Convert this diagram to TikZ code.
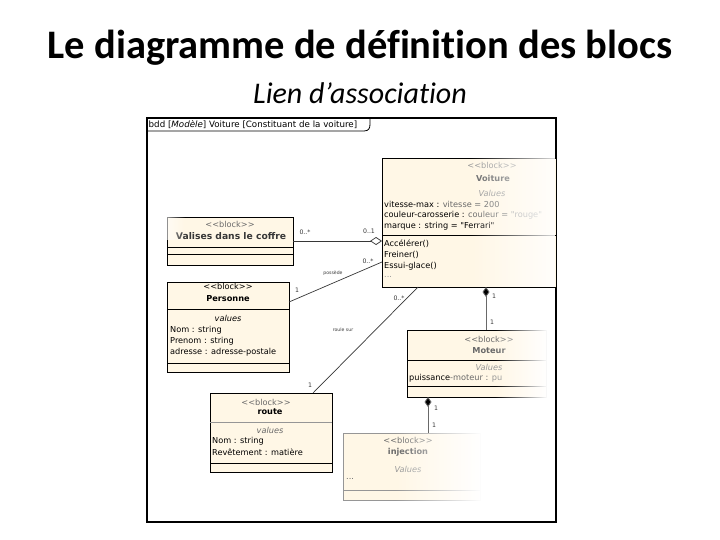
\documentclass[tikz,border=0pt]{standalone}
\usepackage{fontspec}
\setmainfont{Carlito}[Ligatures=NoCommon]
\newfontfamily\dv{DejaVu Sans}
\usetikzlibrary{arrows.meta,fadings}
\definecolor{beige}{RGB}{255,247,230}
\definecolor{lgray}{RGB}{150,150,150}
\definecolor{mgray}{RGB}{105,105,105}
\definecolor{dline}{RGB}{55,55,55}
\begin{document}
\begin{tikzpicture}[x=1pt,y=-1pt,
  blockbox/.style={draw=black,line width=0.8pt,fill=beige,inner sep=0pt,outer sep=0pt},
  txt/.style={font=\dv\fontsize{8.2}{9}\selectfont,inner sep=0pt},
  bname/.style={txt,font=\dv\bfseries\fontsize{8.2}{9}\selectfont},
  ital/.style={txt,font=\dv\itshape\fontsize{8.2}{9}\selectfont},
  attr/.style={txt,anchor=west},
  lbl/.style={font=\dv\fontsize{6.2}{7}\selectfont,inner sep=0pt,text=dline},
  tiny/.style={font=\dv\fontsize{4.6}{5}\selectfont,inner sep=0pt,text=dline},
  compo/.style={draw=mgray,line width=0.8pt,{Diamond[length=10pt,width=7pt,fill=black]}-},
  assoc/.style={draw=dline,line width=0.7pt},
  sep/.style={draw=black,line width=0.6pt}
]
\useasboundingbox (0,0) rectangle (720,540);
\fill[white] (0,0) rectangle (720,540);
% titles
\node[font=\bfseries\fontsize{40.5}{44}\selectfont,inner sep=0pt] (title) at (360,48) {Le diagramme de définition des blocs};
\node[font=\itshape\fontsize{30}{34}\selectfont,inner sep=0pt] (subtitle) at (360,93) {Lien d’association};
% frame
\draw[line width=1.6pt] (147,118) rectangle (556,522);
\draw[line width=0.8pt] (147,131) -- (364,131) .. controls (369,131) and (370,128) .. (370,124) -- (370,118);
\node[font=\dv\fontsize{8.7}{9}\selectfont,anchor=west,inner sep=0pt] (hdr) at (148.5,124.5) {bdd [\textit{Modèle}] Voiture [Constituant de la voiture]};

% Voiture
\node[blockbox,minimum width=174pt,minimum height=129pt] (voiture) at (469,222.5) {};
\draw[sep] (382,235) -- (556,235);
\begin{scope}
\clip (382,158) rectangle (555,287);
\node[txt,text=lgray] (v1) at (492,165) {<<block>>};
\node[bname,text=mgray] (v2) at (493,178) {Voiture};
\node[ital,text=lgray] (v3) at (492,193) {Values};
\node[attr] (v4) at (384,204) {vitesse-max : \textcolor{mgray}{vitesse = 200}};
\node[attr] (v5) at (384,215) {couleur-carosserie : \textcolor{mgray}{couleur = \textcolor{lgray}{"rouge"}}};
\node[attr] (v6) at (384,226) {marque : string = "Ferrari"};
\node[attr] (v7) at (384,244) {Accélérer()};
\node[attr] (v8) at (384,255) {Freiner()};
\node[attr] (v9) at (384,266) {Essui-glace()};
\node[attr,text=lgray] (v10) at (384,277) {...};
\end{scope}
\fill[white,path fading=west,opacity=0.85] (470,157.6) rectangle (555,234.6);
\fill[white,path fading=west,opacity=0.85] (470,235.4) rectangle (555,286.6);

% Valises
\node[blockbox,minimum width=126pt,minimum height=48pt] (valises) at (230,241) {};
\draw[sep] (167,247) -- (293,247);
\draw[sep] (167,254) -- (293,254);
\node[txt,text=mgray] (a1) at (230,224) {<<block>>};
\node[bname,text=dline,font=\dv\bfseries\fontsize{9.2}{10}\selectfont] (a2) at (231,236.5) {Valises dans le coffre};
\fill[white,path fading=east,opacity=0.6] (166,216) rectangle (185,240);

% Personne
\node[blockbox,minimum width=122pt,minimum height=90pt,line width=1pt] (personne) at (228,327) {};
\draw[sep] (167,309) -- (289,309);
\draw[sep] (167,363) -- (289,363);
\node[txt] (p1) at (228,286) {<<block>>};
\node[bname] (p2) at (228,299) {Personne};
\node[ital] (p3) at (228,318) {values};
\node[attr] (p4) at (170,330) {Nom : string};
\node[attr] (p5) at (170,341) {Prenom : string};
\node[attr] (p6) at (170,352) {adresse : adresse-postale};

% route
\node[blockbox,minimum width=122pt,minimum height=79pt] (route) at (271,432.5) {};
\draw[sep,draw=lgray] (210,422) -- (332,422);
\draw[sep] (210,463) -- (332,463);
\node[txt,text=mgray] (r1) at (266,402) {<<block>>};
\node[bname] (r2) at (270,412) {route};
\node[ital,text=mgray] (r3) at (270,430) {values};
\node[attr] (r4) at (212,441.5) {Nom : string};
\node[attr] (r5) at (212,452.5) {Revêtement : matière};

% Moteur
\node[blockbox,minimum width=139pt,minimum height=67pt] (moteur) at (476.5,363.5) {};
\draw[sep] (407,360) -- (546,360);
\draw[sep] (407,386) -- (546,386);
\node[txt,text=mgray] (m1) at (489,339) {<<block>>};
\node[bname,text=mgray] (m2) at (489,350.5) {Moteur};
\node[ital,text=lgray] (m3) at (489,367) {Values};
\node[attr] (m4) at (409,378) {puissance\textcolor{mgray}{-moteur : \textcolor{lgray}{pu}}};
\fill[white,path fading=west] (495,329) rectangle (547.5,398);

% injection
\node[blockbox,minimum width=137pt,minimum height=67pt,draw=lgray] (injection) at (411.5,466.5) {};
\draw[sep,draw=lgray] (343,490) -- (480,490);
\node[txt,text=mgray] (i1) at (408,440) {<<block>>};
\node[bname,text=mgray] (i2) at (408,452) {injection};
\node[ital,text=lgray] (i3) at (408,469) {Values};
\node[attr,text=mgray] (i4) at (346,479) {...};
\fill[white,path fading=west] (395,432) rectangle (481.5,501);

% connectors
\draw[assoc,{Diamond[open,length=12pt,width=8pt]}-] (valises.east -| voiture.west) -- (valises.east);
\draw[assoc] ([yshift=25pt]personne.east) -- ([yshift=-39.5pt]voiture.west);
\draw[assoc] ([xshift=42pt]route.north) -- ([xshift=-51pt]voiture.south);
\coordinate (mtop) at ([xshift=9.5pt]moteur.north);
\draw[compo] (mtop |- voiture.south) -- (mtop);
\coordinate (itop) at ([xshift=16.5pt]injection.north);
\draw[compo] (itop |- moteur.south) -- (itop);

% labels
\node[lbl] (l1) at (305,232) {0..*};
\node[lbl] (l2) at (369,231) {0..1};
\node[lbl] (l3) at (368,261) {0..*};
\node[lbl] (l4) at (297,290) {1};
\node[tiny] (l5) at (333,273) {possède};
\node[lbl] (l6) at (399,298) {0..*};
\node[lbl] (l7) at (310,385) {1};
\node[tiny] (l8) at (343,330) {roule sur};
\node[lbl] (l9) at (494,296) {1};
\node[lbl] (l10) at (492,322) {1};
\node[lbl] (l11) at (436,408) {1};
\node[lbl] (l12) at (434,425) {1};
\end{tikzpicture}
\end{document}
